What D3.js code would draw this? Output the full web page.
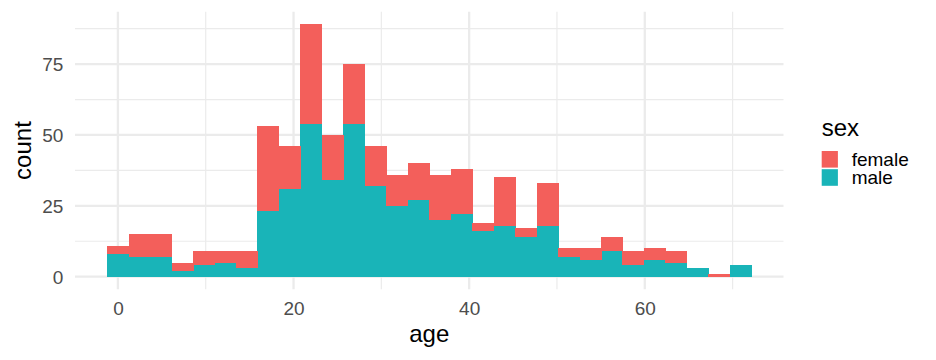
<!DOCTYPE html>
<html>
<head>
<meta charset="utf-8">
<script src="https://cdn.jsdelivr.net/npm/d3@7"></script>
<style>
  body { margin: 0; background: #ffffff; }
  svg { display: block; font-family: "Liberation Sans", Arial, sans-serif; }
</style>
</head>
<body>
<div id="chart"></div>
<script>
// histogram of age, 30 bins, stacked by sex
const binStart = -1.22;
const binWidth = 2.445;
const maleCounts =   [8, 7, 7, 2, 4, 5, 3, 23, 31, 54, 34, 54, 32, 25, 27, 20, 22, 16, 18, 14, 18, 7, 6, 9, 4, 6, 5, 3, 0, 4];
const femaleCounts = [3, 8, 8, 3, 5, 4, 6, 30, 15, 35, 16, 21, 14, 11, 13, 16, 16, 3, 17, 3, 15, 3, 4, 5, 5, 4, 4, 0, 1, 0];
const sexes = ["female", "male"];
const sexColors = ["#F35F5B", "#19B4B8"];
const xTicks = [0, 20, 40, 60];
const xMinor = [10, 30, 50, 70];
const yTicks = [0, 25, 50, 75];
const yMinor = [12.5, 37.5, 62.5, 87.5];

const width = 936, height = 360;
const panel = { left: 75, right: 783.5, top: 11.8, bottom: 289.3 };

const bins = maleCounts.map((m, i) => ({
  x0: binStart + i * binWidth,
  x1: binStart + (i + 1) * binWidth,
  male: m,
  female: femaleCounts[i]
}));

const svg = d3.select("#chart").append("svg")
  .attr("width", width)
  .attr("height", height);

// ggplot style 5% expansion
const xLo = bins[0].x0, xHi = bins[bins.length - 1].x1;
const xPad = (xHi - xLo) * 0.05;
const x = d3.scaleLinear()
  .domain([xLo - xPad, xHi + xPad])
  .range([panel.left, panel.right]);

const yMax = d3.max(bins, d => d.male + d.female);
const y = d3.scaleLinear()
  .domain([-yMax * 0.05, yMax * 1.05])
  .range([panel.bottom, panel.top]);

// grid
const grid = svg.append("g");
grid.selectAll(".xminor").data(xMinor).join("line")
  .attr("x1", d => x(d)).attr("x2", d => x(d))
  .attr("y1", panel.top).attr("y2", panel.bottom)
  .attr("stroke", "#EBEBEB").attr("stroke-width", 1.2);
grid.selectAll(".yminor").data(yMinor).join("line")
  .attr("y1", d => y(d)).attr("y2", d => y(d))
  .attr("x1", panel.left).attr("x2", panel.right)
  .attr("stroke", "#EBEBEB").attr("stroke-width", 1.2);
grid.selectAll(".xmajor").data(xTicks).join("line")
  .attr("x1", d => x(d)).attr("x2", d => x(d))
  .attr("y1", panel.top).attr("y2", panel.bottom)
  .attr("stroke", "#EBEBEB").attr("stroke-width", 2.3);
grid.selectAll(".ymajor").data(yTicks).join("line")
  .attr("y1", d => y(d)).attr("y2", d => y(d))
  .attr("x1", panel.left).attr("x2", panel.right)
  .attr("stroke", "#EBEBEB").attr("stroke-width", 2.3);

// stacked bars, male at the bottom
const stack = d3.stack().keys(["male", "female"]);
const layers = stack(bins);
const color = d3.scaleOrdinal().domain(sexes).range(sexColors);

svg.append("g").selectAll("g").data(layers).join("g")
  .attr("fill", d => color(d.key))
  .attr("shape-rendering", "crispEdges")
  .selectAll("rect").data(d => d).join("rect")
  .attr("x", d => x(d.data.x0))
  .attr("width", d => x(d.data.x1) - x(d.data.x0) + 0.5)
  .attr("y", d => y(d[1]))
  .attr("height", d => y(d[0]) - y(d[1]));

// axes (no lines, only labels)
const xAxis = svg.append("g")
  .attr("transform", `translate(0,${panel.bottom})`)
  .call(d3.axisBottom(x).tickValues(xTicks).tickSize(0).tickPadding(0));
xAxis.select(".domain").remove();
xAxis.selectAll("text")
  .attr("y", 25.7).attr("dy", null)
  .attr("fill", "#4D4D4D")
  .style("font-size", "19px")
  .style("font-family", "Liberation Sans, Arial, sans-serif");

const yAxis = svg.append("g")
  .attr("transform", `translate(${panel.left},0)`)
  .call(d3.axisLeft(y).tickValues(yTicks).tickSize(0).tickPadding(0));
yAxis.select(".domain").remove();
yAxis.selectAll("text")
  .attr("x", -11.7).attr("dy", "0.36em")
  .attr("fill", "#4D4D4D")
  .style("font-size", "19px")
  .style("font-family", "Liberation Sans, Arial, sans-serif");

// axis titles
svg.append("text")
  .attr("x", (panel.left + panel.right) / 2)
  .attr("y", 341.7)
  .attr("text-anchor", "middle")
  .style("font-size", "24px")
  .text("age");

svg.append("text")
  .attr("transform", `translate(30.5,${(panel.top + panel.bottom) / 2}) rotate(-90)`)
  .attr("text-anchor", "middle")
  .style("font-size", "24px")
  .text("count");

// legend
const legend = svg.append("g").attr("transform", "translate(821.7,0)");
legend.append("text")
  .attr("x", 0).attr("y", 135.7)
  .style("font-size", "24px")
  .text("sex");
const keys = legend.selectAll(".key").data(sexes).join("g")
  .attr("transform", (d, i) => `translate(0,${151 + i * 18.2})`);
keys.append("rect")
  .attr("width", 16.2).attr("height", 16.6)
  .attr("fill", d => color(d));
keys.append("text")
  .attr("x", 30).attr("y", 14.7)
  .style("font-size", "19px")
  .text(d => d);
</script>
</body>
</html>
